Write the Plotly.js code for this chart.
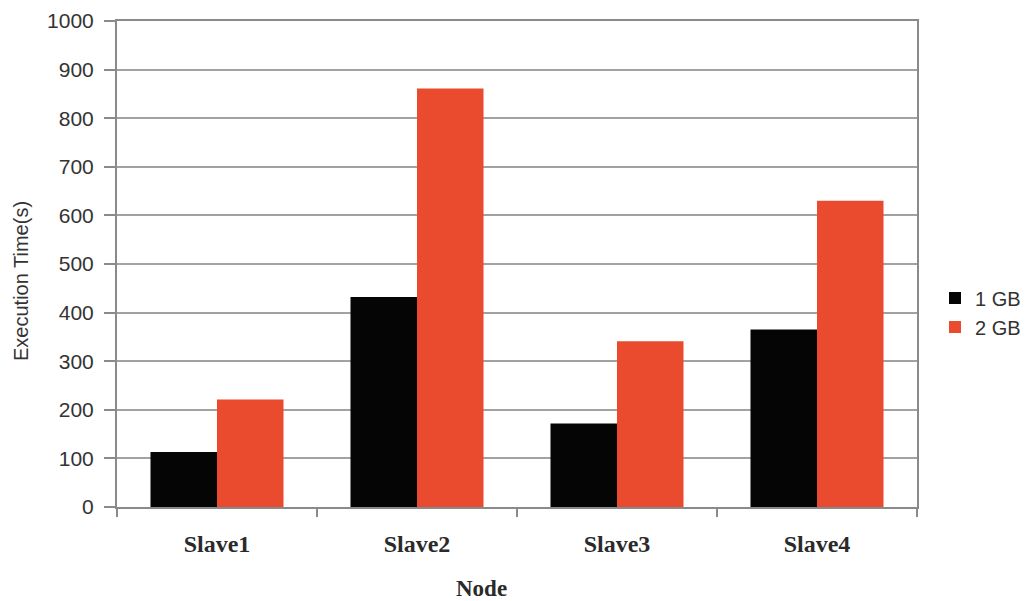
<!DOCTYPE html>
<html>
<head>
<meta charset="utf-8">
<script src="https://cdn.plot.ly/plotly-3.0.1.min.js"></script>
<style>
  html, body { margin: 0; padding: 0; background: #fff; }
  #chart { width: 1031px; height: 601px; }
</style>
</head>
<body>
<div id="chart"></div>
<script>
// Execution time per node for two input sizes
const nodes = ['Slave1', 'Slave2', 'Slave3', 'Slave4'];
const time1GB = [113, 432, 172, 365];
const time2GB = [221, 861, 341, 630];
const seriesNames = ['1 GB', '2 GB'];

const traces = [
  {
    type: 'bar', name: seriesNames[0], x: nodes, y: time1GB,
    marker: { color: '#050505' }
  },
  {
    type: 'bar', name: seriesNames[1], x: nodes, y: time2GB,
    marker: { color: '#ea4b2f' }
  }
];

const sans = 'Liberation Sans, Arial, sans-serif';
const serif = 'Liberation Serif, Times New Roman, serif';

const layout = {
  width: 1031, height: 601,
  margin: { l: 117, r: 114, t: 21, b: 94, autoexpand: false },
  paper_bgcolor: '#ffffff', plot_bgcolor: '#ffffff',
  barmode: 'group',
  bargap: 0.335, bargroupgap: 0,
  showlegend: true,
  legend: {
    x: 1.0225, xanchor: 'left', y: 0.40, yanchor: 'middle',
    font: { family: sans, size: 20, color: '#333333' },
    itemwidth: 30, tracegroupgap: 0, bgcolor: 'rgba(0,0,0,0)'
  },
  xaxis: {
    type: 'category',
    showline: true, linecolor: '#8a8a8a', linewidth: 2,
    mirror: true,
    ticks: 'outside', tickson: 'boundaries', ticklen: 8, tickcolor: '#8a8a8a', tickwidth: 2,
    tickfont: { family: serif, size: 24, color: '#2a2a2a', weight: 'bold' },
    ticklabelstandoff: 14,
    showgrid: false, zeroline: false
  },
  yaxis: {
    range: [0, 1000], dtick: 100, tick0: 0,
    showline: true, linecolor: '#8a8a8a', linewidth: 2,
    mirror: true,
    showgrid: true, gridcolor: '#a2a2a2', gridwidth: 2,
    zeroline: false,
    ticks: 'outside', ticklen: 11, tickcolor: '#8a8a8a', tickwidth: 2,
    tickfont: { family: sans, size: 21, color: '#333333' },
    ticklabelstandoff: 6
  },
  annotations: [
    {
      text: 'Execution Time(s)', xref: 'paper', yref: 'paper',
      x: -0.12, y: 0.465, xanchor: 'center', yanchor: 'middle',
      textangle: -90, showarrow: false,
      font: { family: sans, size: 20, color: '#333333' }
    },
    {
      text: '<b>Node</b>', xref: 'paper', yref: 'paper',
      x: 0.455, y: -0.167, xanchor: 'center', yanchor: 'middle',
      showarrow: false,
      font: { family: serif, size: 23, color: '#2a2a2a' }
    }
  ]
};

Plotly.newPlot('chart', traces, layout, { displayModeBar: false, staticPlot: true });
</script>
</body>
</html>
